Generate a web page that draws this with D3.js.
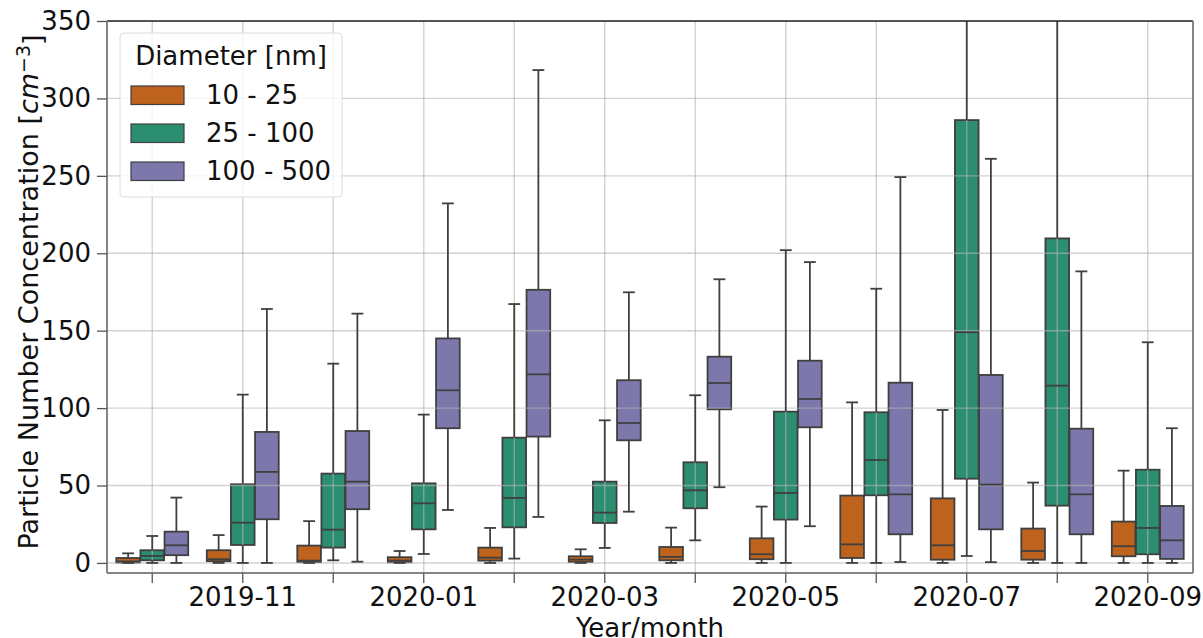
<!DOCTYPE html>
<html>
<head>
<meta charset="utf-8">
<script src="https://cdn.jsdelivr.net/npm/d3@7"></script>
<style>
  html, body { margin: 0; padding: 0; background: #fff; }
  svg { display: block; font-family: "DejaVu Sans", sans-serif; }
</style>
</head>
<body>
<svg id="chart" width="1203" height="638"></svg>
<script>
// ---------- data ----------
const months = ["2019-10","2019-11","2019-12","2020-01","2020-02","2020-03",
                "2020-04","2020-05","2020-06","2020-07","2020-08","2020-09"];
const tickLabels = ["", "2019-11", "", "2020-01", "", "2020-03", "", "2020-05", "", "2020-07", "", "2020-09"];
const seriesNames = ["10 - 25", "25 - 100", "100 - 500"];
const seriesColors = ["#be631d", "#2b8e70", "#7c78ab"];
const yTicks = [0, 50, 100, 150, 200, 250, 300, 350];

// each entry: [whisker low, Q1, median, Q3, whisker high]
const stats10_25 = [
  [0, 0.2, 1.0, 3.2, 6.2],
  [0, 1.1, 2.4, 8.2, 18],
  [0, 0.5, 1.5, 11.2, 27],
  [0, 0.4, 1.5, 3.7, 7.7],
  [0, 1.5, 3.4, 9.9, 22.6],
  [0, 0.6, 2.1, 4.3, 8.8],
  [0, 1.7, 3.9, 10.3, 22.8],
  [0, 2.4, 5.6, 15.9, 36.4],
  [0, 3.2, 12, 43.5, 103.7],
  [0, 2.1, 11.4, 41.7, 98.8],
  [0, 2.1, 7.7, 22.2, 51.9],
  [0, 4.3, 10.8, 26.7, 59.6]
];
const stats25_100 = [
  [0, 1.7, 4.5, 8.2, 17.4],
  [0, 11.6, 26, 50.8, 108.7],
  [1.7, 9.9, 21.5, 57.7, 128.7],
  [5.8, 21.7, 38.5, 51.4, 95.8],
  [2.8, 23, 42, 80.9, 167.2],
  [9.7, 25.8, 32.5, 52.5, 92.1],
  [14.6, 35.3, 46.9, 65, 108.3],
  [0, 28, 45.2, 97.7, 202],
  [0, 43.7, 66.5, 97.3, 177.1],
  [4.5, 54.4, 149, 286, 420],
  [0, 37, 114.5, 209.6, 400],
  [0, 5.6, 22.6, 60.2, 142.5]
];
const stats100_500 = [
  [0, 5, 11.4, 20.2, 42.2],
  [0, 28.2, 58.8, 84.6, 164],
  [0.8, 34.7, 52.5, 85.2, 161],
  [34.2, 87, 111.5, 145, 232.2],
  [29.7, 81.6, 121.8, 176.4, 318.3],
  [33.1, 79.2, 90.4, 118, 174.8],
  [48.9, 99.2, 116.2, 133.2, 183.2],
  [23.7, 87.6, 105.9, 130.6, 194.3],
  [0.6, 18.5, 44.3, 116.4, 249.2],
  [0.5, 21.7, 50.6, 121.4, 261],
  [0, 18.5, 44.3, 86.7, 188.3],
  [0, 2.6, 14.6, 36.8, 87]
];
const allStats = [stats10_25, stats25_100, stats100_500];

// ---------- layout ----------
const plot = { left: 107, right: 1193, top: 21, bottom: 573 };
const edge = "#3f3f3f";
const FS = 26;

const svg = d3.select("#chart");

const x = d3.scaleBand().domain(months).range([plot.left, plot.right]).padding(0);
const y = d3.scaleLinear().domain([-6.5, 350]).range([plot.bottom, plot.top]);

const bw = x.bandwidth();
const hueW = bw * 0.8 / 3;
const boxW = hueW * 0.98;
const capW = boxW * 0.5;
const center = m => x(m) + bw / 2;
const hueX = (m, i) => center(m) + (i - 1) * hueW;

svg.append("defs").append("clipPath").attr("id", "clip")
  .append("rect").attr("x", plot.left).attr("y", plot.top)
  .attr("width", plot.right - plot.left).attr("height", plot.bottom - plot.top);

const gPlot = svg.append("g").attr("clip-path", "url(#clip)");

// boxes (patches, below grid)
const gBoxes = gPlot.append("g");
allStats.forEach((stats, i) => {
  gBoxes.selectAll(null).data(months).join("rect")
    .attr("x", (m) => hueX(m, i) - boxW / 2)
    .attr("width", boxW)
    .attr("y", (m, j) => y(stats[j][3]))
    .attr("height", (m, j) => Math.max(0.5, y(stats[j][1]) - y(stats[j][3])))
    .attr("fill", seriesColors[i])
    .attr("stroke", edge)
    .attr("stroke-width", 1.8);
});

// grid
const gGrid = gPlot.append("g").attr("stroke", "#b4b4b4").attr("stroke-opacity", 0.6).attr("stroke-width", 1.4);
gGrid.selectAll(null).data(yTicks).join("line")
  .attr("x1", plot.left).attr("x2", plot.right)
  .attr("y1", d => y(d)).attr("y2", d => y(d));
gGrid.selectAll(null).data(months).join("line")
  .attr("x1", d => center(d)).attr("x2", d => center(d))
  .attr("y1", plot.top).attr("y2", plot.bottom);

// whiskers, caps, medians (above grid)
const gLines = gPlot.append("g").attr("stroke", edge).attr("stroke-width", 1.8).attr("fill", "none");
allStats.forEach((stats, i) => {
  const g = gLines.append("g");
  months.forEach((m, j) => {
    const s = stats[j];
    const cx = hueX(m, i);
    g.append("line").attr("x1", cx).attr("x2", cx).attr("y1", y(s[1])).attr("y2", y(s[0]));
    g.append("line").attr("x1", cx).attr("x2", cx).attr("y1", y(s[3])).attr("y2", y(s[4]));
    g.append("line").attr("x1", cx - capW / 2).attr("x2", cx + capW / 2).attr("y1", y(s[0])).attr("y2", y(s[0]));
    g.append("line").attr("x1", cx - capW / 2).attr("x2", cx + capW / 2).attr("y1", y(s[4])).attr("y2", y(s[4]));
    g.append("line").attr("x1", cx - boxW / 2).attr("x2", cx + boxW / 2).attr("y1", y(s[2])).attr("y2", y(s[2]));
  });
});

// spines
svg.append("line").attr("x1", plot.left).attr("x2", plot.right).attr("y1", plot.top).attr("y2", plot.top)
  .attr("stroke", "#222").attr("stroke-width", 1.5);
[[plot.left, plot.top, plot.left, plot.bottom],
 [plot.right, plot.top, plot.right, plot.bottom],
 [plot.left, plot.bottom, plot.right, plot.bottom]].forEach(c => {
  svg.append("line").attr("x1", c[0]).attr("y1", c[1]).attr("x2", c[2]).attr("y2", c[3])
    .attr("stroke", "#858585").attr("stroke-width", 2);
});

// axes
const yAxis = d3.axisLeft(y).tickValues(yTicks).tickSize(10).tickPadding(6);
const gy = svg.append("g").attr("transform", `translate(${plot.left},0)`).call(yAxis);
gy.select(".domain").remove();
gy.selectAll(".tick line").attr("stroke", "#555").attr("stroke-width", 1.3);
gy.selectAll(".tick text").attr("font-size", FS).attr("fill", "#111").attr("font-family", "DejaVu Sans");

const xAxis = d3.axisBottom(x).tickFormat((d, i) => tickLabels[i]).tickSize(10).tickPadding(5);
const gx = svg.append("g").attr("transform", `translate(0,${plot.bottom})`).call(xAxis);
gx.select(".domain").remove();
gx.selectAll(".tick line").attr("stroke", "#555").attr("stroke-width", 1.3);
gx.selectAll(".tick text").attr("font-size", FS).attr("fill", "#111").attr("font-family", "DejaVu Sans");

// axis labels
svg.append("text").attr("x", (plot.left + plot.right) / 2).attr("y", 637)
  .attr("text-anchor", "middle").attr("font-size", FS).attr("fill", "#111").text("Year/month");

const yl = svg.append("text")
  .attr("transform", `translate(38,292) rotate(-90)`)
  .attr("text-anchor", "middle").attr("font-size", 27).attr("fill", "#111");
yl.append("tspan").text("Particle Number Concentration [");
yl.append("tspan").attr("font-style", "italic").text("cm");
yl.append("tspan").attr("dy", "-0.45em").attr("font-size", 27 * 0.7).text("\u22123");
yl.append("tspan").attr("dy", "0.45em").text("]");

// legend
const lg = svg.append("g");
lg.append("rect").attr("x", 120).attr("y", 33).attr("width", 222).attr("height", 164)
  .attr("rx", 4).attr("fill", "#fff").attr("fill-opacity", 0.8)
  .attr("stroke", "#dcdcdc").attr("stroke-width", 1);
lg.append("text").attr("x", 231).attr("y", 65).attr("text-anchor", "middle")
  .attr("font-size", FS).attr("fill", "#111").text("Diameter [nm]");
seriesNames.forEach((name, i) => {
  const yy = 86 + i * 38;
  lg.append("rect").attr("x", 131).attr("y", yy).attr("width", 53).attr("height", 18.5)
    .attr("fill", seriesColors[i]).attr("stroke", edge).attr("stroke-width", 1.2);
  lg.append("text").attr("x", 206).attr("y", yy + 18).attr("font-size", FS)
    .attr("fill", "#111").text(name);
});
</script>
</body>
</html>
